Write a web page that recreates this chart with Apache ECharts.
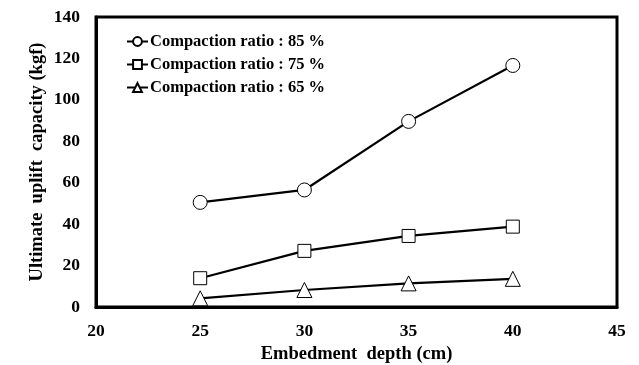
<!DOCTYPE html>
<html>
<head>
<meta charset="utf-8">
<script src="https://cdn.jsdelivr.net/npm/echarts@6/dist/echarts.min.js"></script>
<style>html,body{margin:0;padding:0;background:#fff;}#c{width:639px;height:365px;}</style>
</head>
<body>
<div id="c"></div>
<script>
var depths = [25, 30, 35, 40];
var ratio85 = [50.5, 56.5, 89.6, 116.6];
var ratio75 = [13.9, 27.1, 34.3, 38.8];
var ratio65 = [4.2, 8.2, 11.4, 13.6];
var seriesNames = ['Compaction ratio : 85 %', 'Compaction ratio : 75 %', 'Compaction ratio : 65 %'];
var xName = 'Embedment  depth (cm)';
var yName = 'Ultimate  uplift  capacity (kgf)';

var font = '"Liberation Serif", "Times New Roman", serif';
function pairs(vals){ return depths.map(function(d,i){ return [d, vals[i]]; }); }
function mk(name, vals, sym, size){
  return {
    name: name, type: 'line', data: pairs(vals), symbol: sym, symbolSize: size,
    lineStyle: {color: '#000', width: 2.2},
    itemStyle: {color: '#fff', borderColor: '#000', borderWidth: 1},
    z: 5
  };
}
var chart = echarts.init(document.getElementById('c'));
chart.setOption({
  animation: false,
  backgroundColor: '#fff',
  grid: {left: 96, right: 22, top: 17, bottom: 58, containLabel: false, outerBoundsMode: 'none', show: true, borderColor: '#000', borderWidth: 3, backgroundColor: 'transparent'},
  legend: {
    orient: 'vertical', left: 121, top: 28, itemWidth: 21, itemHeight: 11, itemGap: 6,
    textStyle: {fontFamily: font, fontWeight: 'bold', fontSize: 16.5, color: '#000', lineHeight: 16, padding: [0,0,0,-3]},
    data: seriesNames
  },
  xAxis: {
    type: 'value', min: 20, max: 45, interval: 5,
    name: xName, nameLocation: 'middle', nameGap: 38, nameMoveOverlap: false,
    nameTextStyle: {fontFamily: font, fontWeight: 'bold', fontSize: 18.5, color: '#000'},
    axisLine: {show: true, lineStyle: {color: '#000', width: 3}},
    axisTick: {show: false}, splitLine: {show: false},
    axisLabel: {fontFamily: font, fontWeight: 'bold', fontSize: 17.5, color: '#000', margin: 15}
  },
  yAxis: {
    type: 'value', min: 0, max: 140, interval: 20,
    name: yName, nameLocation: 'middle', nameGap: 49, nameMoveOverlap: false,
    nameTextStyle: {fontFamily: font, fontWeight: 'bold', fontSize: 18.5, color: '#000'},
    axisLine: {show: true, lineStyle: {color: '#000', width: 3}},
    axisTick: {show: false}, splitLine: {show: false},
    axisLabel: {fontFamily: font, fontWeight: 'bold', fontSize: 17.5, color: '#000', margin: 16}
  },
  series: [
    mk(seriesNames[0], ratio85, 'circle', 14),
    mk(seriesNames[1], ratio75, 'rect', 13),
    mk(seriesNames[2], ratio65, 'triangle', 15)
  ]
});
</script>
</body>
</html>
